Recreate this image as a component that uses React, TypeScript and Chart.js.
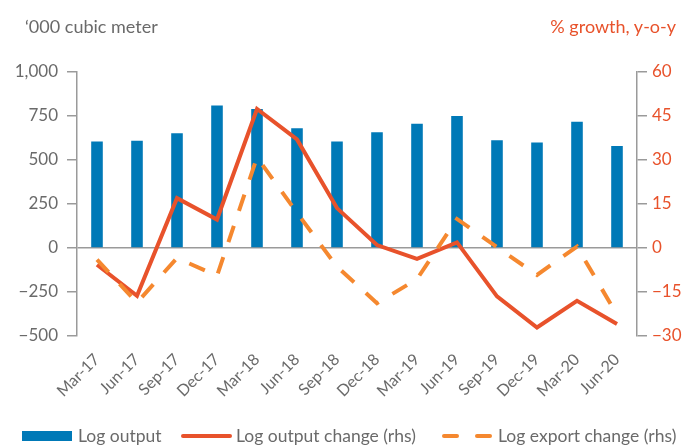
import React, { useEffect, useRef } from "react";
import { Chart, registerables } from "chart.js";

Chart.register(...registerables);

const categories = [
  "Mar-17", "Jun-17", "Sep-17", "Dec-17", "Mar-18", "Jun-18", "Sep-18",
  "Dec-18", "Mar-19", "Jun-19", "Sep-19", "Dec-19", "Mar-20", "Jun-20",
];
const logOutput = [605, 610, 652, 810, 790, 680, 605, 658, 706, 750, 612, 600, 718, 580];
const logOutputChange = [-5.7, -16.3, 17, 9.7, 47.4, 37, 13.6, 1, -3.7, 1.9, -16.5, -27.1, -18, -25.9];
const logExportChange = [-4, -18.6, -3.4, -9.5, 30.9, 12, -6.4, -18.8, -10.6, 9.9, 0.3, -9.2, 0.5, -22.8];

const BLUE = "#0079b7";
const RED = "#e8522b";
const ORANGE = "#f5882f";
const GRAY_TEXT = "#6a6a6a";
const AXIS = "#9a9a9a";
const FONT = "Lato, 'Open Sans', sans-serif";

const fmtLeft = (v: number) => {
  const s = Math.abs(v).toLocaleString("en-US");
  return v < 0 ? "\u2212" + s : s;
};
const fmtRight = (v: number) => (v < 0 ? "\u2212" + Math.abs(v) : String(v));

export default function App() {
  const canvasRef = useRef<HTMLCanvasElement | null>(null);

  useEffect(() => {
    if (!canvasRef.current) return;
    Chart.defaults.font.family = FONT;
    const chart = new Chart(canvasRef.current, {
      type: "bar",
      data: {
        labels: categories,
        datasets: [
          {
            type: "line",
            label: "Log export change (rhs)",
            data: logExportChange,
            yAxisID: "y1",
            borderColor: ORANGE,
            borderWidth: 4,
            borderDash: [17, 16],
            pointRadius: 0,
            tension: 0,
            fill: false,
            order: 0,
          } as any,
          {
            type: "line",
            label: "Log output change (rhs)",
            data: logOutputChange,
            yAxisID: "y1",
            borderColor: RED,
            borderWidth: 4,
            pointRadius: 0,
            tension: 0,
            fill: false,
            order: 1,
          } as any,
          {
            type: "bar",
            label: "Log output",
            data: logOutput,
            yAxisID: "y",
            backgroundColor: BLUE,
            barPercentage: 0.29,
            categoryPercentage: 1,
            order: 2,
          } as any,
        ],
      },
      options: {
        animation: false,
        responsive: true,
        maintainAspectRatio: false,
        layout: { padding: { top: 72, left: 0, right: 0, bottom: 0 } },
        plugins: {
          legend: { display: false },
          tooltip: { enabled: false },
        },
        scales: {
          x: {
            offset: true,
            grid: { display: false, drawTicks: false },
            border: { display: false },
            ticks: {
              autoSkip: false,
              minRotation: 45,
              maxRotation: 45,
              padding: 14,
              color: GRAY_TEXT,
              font: { size: 16, family: FONT },
            },
            afterFit: (scale: any) => {
              scale.height = 109;
            },
          },
          y: {
            position: "left",
            min: -500,
            max: 1000,
            ticks: {
              stepSize: 250,
              padding: 9,
              color: GRAY_TEXT,
              font: { size: 17, family: FONT },
              callback: (v: any) => fmtLeft(Number(v)),
            },
            grid: {
              drawOnChartArea: true,
              color: (ctx: any) => (ctx.tick && ctx.tick.value === 0 ? AXIS : "rgba(0,0,0,0)"),
              lineWidth: 1.5,
              tickColor: AXIS,
              tickLength: 10,
            },
            border: { display: true, color: AXIS, width: 1.5 },
            afterFit: (scale: any) => {
              scale.width = 77;
            },
          },
          y1: {
            position: "right",
            min: -30,
            max: 60,
            ticks: {
              stepSize: 15,
              padding: 5,
              color: RED,
              font: { size: 17, family: FONT },
              callback: (v: any) => fmtRight(Number(v)),
            },
            grid: {
              drawOnChartArea: false,
              tickColor: AXIS,
              lineWidth: 1.5,
              tickLength: 10,
            },
            border: { display: true, color: AXIS, width: 1.5 },
            afterFit: (scale: any) => {
              scale.width = 47;
            },
          },
        },
      },
    });
    return () => chart.destroy();
  }, []);

  const textStyle: React.CSSProperties = {
    position: "absolute",
    fontFamily: FONT,
    fontSize: 17.5,
    color: GRAY_TEXT,
    whiteSpace: "nowrap",
    lineHeight: "20px",
  };

  return (
    <div style={{ position: "absolute", left: 0, top: 0, width: 684, height: 445, overflow: "hidden", background: "#fff" }}>
      <canvas ref={canvasRef} style={{ position: "absolute", left: 0, top: 0 }} />
      <div style={{ ...textStyle, fontSize: 18, left: 25, top: 16 }}>{"\u2018000 cubic meter"}</div>
      <div style={{ ...textStyle, fontSize: 18, right: 8, top: 16, color: RED }}>% growth, y-o-y</div>

      {/* Legend */}
      <div style={{ position: "absolute", left: 22, top: 431, width: 50, height: 10, background: BLUE }} />
      <div style={{ ...textStyle, left: 78, top: 426 }}>Log output</div>
      <div style={{ position: "absolute", left: 181, top: 434, width: 51, height: 4, borderRadius: 2, background: RED }} />
      <div style={{ ...textStyle, left: 236, top: 426 }}>Log output change (rhs)</div>
      <div style={{ position: "absolute", left: 442, top: 434, width: 17, height: 4, borderRadius: 2, background: ORANGE }} />
      <div style={{ position: "absolute", left: 475, top: 434, width: 17, height: 4, borderRadius: 2, background: ORANGE }} />
      <div style={{ ...textStyle, left: 498, top: 426 }}>Log export change (rhs)</div>
    </div>
  );
}
